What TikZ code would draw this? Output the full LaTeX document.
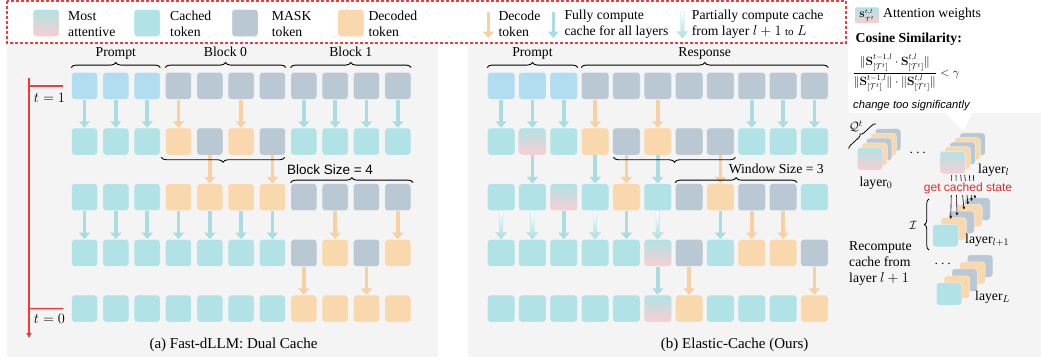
\documentclass[tikz,border=0pt]{standalone}
\usepackage{amsmath,amssymb}
\usepackage[no-math]{fontspec}
\setmainfont{Liberation Serif}
\setsansfont{Liberation Sans}
\usetikzlibrary{arrows.meta,decorations.pathreplacing,calc}
\definecolor{promptc}{HTML}{B2DCEF}
\definecolor{cachec}{HTML}{B1E2E5}
\definecolor{maskc}{HTML}{BAC8D3}
\definecolor{decc}{HTML}{F9D8AE}
\definecolor{pinkc}{HTML}{F8CED2}
\definecolor{bgc}{HTML}{F4F4F4}
\definecolor{redc}{HTML}{EE3B3B}
\definecolor{arrc}{HTML}{A9DDE2}
\definecolor{arro}{HTML}{F8D0A2}
\definecolor{gcs}{HTML}{E32B30}
\tikzset{
  txt/.style={font=\fontsize{13.7}{16}\selectfont, inner sep=0pt},
  captxt/.style={font=\fontsize{15}{18}\selectfont, inner sep=0pt},
  tok/.style={rounded corners=3pt, minimum width=26pt, minimum height=27pt, inner sep=0pt, draw=white, draw opacity=0.6, line width=0.5pt},
  tokb/.style={tok, minimum width=27.5pt},
  card/.style={rounded corners=3pt, minimum width=25.5pt, minimum height=22.5pt, inner sep=0pt, draw=white, draw opacity=0.6, line width=0.5pt},
  tokP/.style={fill=promptc},
  tokC/.style={fill=cachec},
  tokM/.style={fill=maskc},
  tokD/.style={fill=decc},
  tokA/.style={top color=cachec, bottom color=pinkc},
  carr/.style={draw=arrc, line width=3.6pt, -{Triangle[width=11pt,length=6.5pt]}},
  oarr/.style={draw=arro, line width=3.6pt, -{Triangle[width=11pt,length=6.5pt]}},
  brc/.style={decorate, decoration={brace, amplitude=5pt}, line width=0.9pt},
  gcarr/.style={line width=0.6pt, -{Stealth[length=3pt,width=2.6pt]}},
}
\newcommand\partarrow[2]{%
  \shade[top color=white, bottom color=arrc, draw=arrc!80!white, line width=0.4pt]
  ($(#1)+(-1.8,0)$) -- ($(#2)+(-1.8,-6.5)$) -- ($(#2)+(-5.5,-6.5)$) -- (#2) --
  ($(#2)+(5.5,-6.5)$) -- ($(#2)+(1.8,-6.5)$) -- ($(#1)+(1.8,0)$) -- cycle;}
\begin{document}
\begin{tikzpicture}[x=1pt,y=-1pt]
\useasboundingbox (0,0) rectangle (1041,362);
\fill[white] (0,0) rectangle (1041,362);
% panels
\fill[bgc] (7,43) rectangle (438,357);
\fill[bgc] (468,43) rectangle (1041,357);
\fill[white, rounded corners=6pt] (848,20) -- (848,113) -- (1050,113) -- (1050,20) -- cycle;
\fill[white] (944,112) -- (963,131) -- (973,112) -- cycle;
% legend box
\draw[redc, line width=1.1pt, dash pattern=on 3pt off 2pt] (7,1) rectangle (846,43);

% legend items
\node[tok, tokA] (lgA) at (46.2,23) {};
\node[txt, anchor=west, align=left] (lgAt) at (68,24) {Most\\attentive};
\node[tok, tokC] (lgC) at (147.2,23) {};
\node[txt, anchor=west, align=left] (lgCt) at (170,24) {Cached\\token};
\node[tok, tokM] (lgM) at (245,23) {};
\node[txt, anchor=west, align=left] (lgMt) at (271.7,24) {MASK\\token};
\node[tok, tokD] (lgD) at (350.8,23) {};
\node[txt, anchor=west, align=left] (lgDt) at (368.3,24) {Decoded\\token};
\coordinate (lo1) at (488.3,11.5); \coordinate (lo2) at (488.3,38);
\draw[oarr] (lo1) -- (lo2);
\node[txt, anchor=west, align=left] (lot) at (498.3,24) {Decode\\token};
\coordinate (lc1) at (553.3,11.5); \coordinate (lc2) at (553.3,38);
\draw[carr] (lc1) -- (lc2);
\node[txt, anchor=west, align=left] (lct) at (564.3,24) {Fully compute\\cache for all layers};
\coordinate (lp1) at (682.3,11.5); \coordinate (lp2) at (682.3,38);
\partarrow{lp1}{lp2}
\node[txt, anchor=west, align=left] (lpt) at (691.7,24) {Partially compute cache\\from layer $l+1$ {\fontsize{11}{13}\selectfont to} $L$};

% ---------- panel (a) ----------
\foreach \row [count=\ri from 0] in {{P,P,P,M,M,M,M,M,M,M,M},{C,C,C,D,M,D,M,C,C,C,C},{C,C,C,D,D,D,D,M,M,M,M},{C,C,C,C,C,C,C,M,D,M,D},{C,C,C,C,C,C,C,D,D,D,D}}{
  \foreach \tk [count=\ci from 0] in \row {
    \node[tok, tok\tk] (a-\ri-\ci) at ({84.5+31.33*\ci},{85.8+55.7*\ri}) {};
  }
}
\foreach \ri/\ci/\k in {0/0/carr,0/1/carr,0/2/carr,0/3/oarr,0/5/oarr,0/7/carr,0/8/carr,0/9/carr,0/10/carr,
  1/4/oarr,1/6/oarr,
  2/0/carr,2/1/carr,2/2/carr,2/3/carr,2/4/carr,2/5/carr,2/6/carr,2/8/oarr,2/10/oarr,
  3/7/oarr,3/9/oarr}{
  \pgfmathtruncatemacro\rn{\ri+1}
  \draw[\k] (a-\ri-\ci) -- (a-\rn-\ci);
}
% braces (a)
\draw[brc] ($(a-0-0.north west)+(0,-4.5)$) -- ($(a-0-2.north east)+(0,-4.5)$);
\draw[brc] ($(a-0-3.north west)+(0,-4.5)$) -- ($(a-0-6.north east)+(0,-4.5)$);
\draw[brc] ($(a-0-7.north west)+(0,-4.5)$) -- ($(a-0-10.north east)+(0,-4.5)$);
\node[txt, anchor=base] (apl) at ($(a-0-0.north west)!0.5!(a-0-2.north east)+(0,-16)$) {Prompt};
\node[txt, anchor=base] (ab0) at ($(a-0-3.north west)!0.5!(a-0-6.north east)+(0,-16)$) {Block 0};
\node[txt, anchor=base] (ab1) at ($(a-0-7.north west)!0.5!(a-0-10.north east)+(0,-16)$) {Block 1};
\draw[brc] ($(a-1-6.south east)+(-1,2)$) -- ($(a-1-3.south west)+(-4,2)$);
\draw[brc] ($(a-2-7.north west)+(0,-0.8)$) -- ($(a-2-10.north east)+(2,-0.8)$);
\node[font=\sffamily\fontsize{13.5}{16}\selectfont, inner sep=0pt] (abs) at (330,169.5) {Block Size = 4};
% timeline
\coordinate (tl0) at (29,78);
\coordinate (tl1) at (29,338);
\draw[redc, line width=1.4pt, -{Triangle[width=5pt,length=5pt]}] (tl0) -- (tl1);
\draw[redc, line width=1.4pt] (29,85.8) -- ($(a-0-0.west)+(-8,0)$);
\draw[redc, line width=1.4pt] (29,308.6) -- ($(a-4-0.west)+(-8,0)$);
\node[txt] (t1) at (49.5,97.5) {$t=1$};
\node[txt] (t0) at (49.5,319) {$t=0$};
\node[captxt] (capa) at (233.5,344.5) {(a) Fast-dLLM: Dual Cache};

% ---------- panel (b) ----------
\foreach \row [count=\ri from 0] in {{P,P,P,M,M,M,M,M,M,M,M},{C,A,C,D,M,D,M,M,C,C,C},{C,C,A,C,D,C,M,D,M,M,C},{C,C,C,C,C,A,M,C,D,D,M},{C,C,C,C,C,A,D,C,C,C,D}}{
  \foreach \tk [count=\ci from 0] in \row {
    \node[tokb, tok\tk] (b-\ri-\ci) at ({501.1+31.33*\ci},{85.8+55.7*\ri}) {};
  }
}
\foreach \ri/\ci/\k in {0/0/carr,0/1/carr,0/2/carr,0/3/oarr,0/5/oarr,0/8/carr,0/9/carr,0/10/carr,
  1/1/carr,1/3/carr,1/4/oarr,1/5/carr,1/7/oarr,
  2/2/carr,2/4/carr,2/7/carr,2/8/oarr,2/9/oarr,
  3/5/carr,3/6/oarr,3/10/oarr}{
  \pgfmathtruncatemacro\rn{\ri+1}
  \draw[\k] (b-\ri-\ci) -- (b-\rn-\ci);
}
\foreach \ci in {0,1,3,5}{
  \partarrow{b-2-\ci.south}{b-3-\ci.north}
}
\draw[brc] ($(b-0-0.north west)+(0,-4.5)$) -- ($(b-0-2.north east)+(0,-4.5)$);
\draw[brc] ($(b-0-3.north west)+(0,-4.5)$) -- ($(b-0-10.north east)+(0,-4.5)$);
\node[txt, anchor=base] (bpl) at ($(b-0-0.north west)!0.5!(b-0-2.north east)+(0,-16)$) {Prompt};
\node[txt, anchor=base] (brs) at ($(b-0-3.north west)!0.5!(b-0-10.north east)+(0,-16)$) {Response};
\draw[brc] ($(b-1-7.south east)+(1,2)$) -- ($(b-1-4.south west)+(1,2)$);
\draw[brc] ($(b-2-6.north west)+(0,-0.8)$) -- ($(b-2-9.north east)+(0,-0.8)$);
\node[txt] (bws) at (776.3,168.5) {Window Size = 3};
\node[captxt] (capb) at (734.7,345) {(b) Elastic-Cache (Ours)};

% ---------- right panel ----------
\node[rounded corners=2pt, minimum width=24pt, minimum height=16pt, inner sep=0pt, top color=cachec, bottom color=pinkc] (sw) at (867,15.3) {};
\node[font=\fontsize{8.5}{10}\selectfont, inner sep=0pt] (swl) at (sw.center) {$\mathbf{S}^{t,l}_{\mathcal{T}^t}$};
\node[txt, anchor=west] (swt) at (883,14.5) {Attention weights};
\node[txt, anchor=west, font=\bfseries\fontsize{13.7}{16}\selectfont] (cos) at (855.5,39.5) {Cosine Similarity:};
\node[font=\fontsize{12}{14}\selectfont, inner sep=0pt] (frac) at (906,73) {$\displaystyle\frac{\|\mathbf{S}^{t-1,l}_{[\mathcal{T}^t]}\cdot\mathbf{S}^{t,l}_{[\mathcal{T}^t]}\|}{\|\mathbf{S}^{t-1,l}_{[\mathcal{T}^t]}\|\cdot\|\mathbf{S}^{t,l}_{[\mathcal{T}^t]}\|}<\gamma$};
\node[anchor=west, inner sep=0pt, font=\sffamily\itshape\fontsize{11.2}{13}\selectfont] (chg) at (853,106) {change too significantly};

% stacks
\foreach \k/\s in {4/M,3/D,2/M,1/D,0/A}
  \node[card, tok\s] (s0-\k) at ({870+4.5*\k},{159-4.8*\k}) {};
\foreach \k/\s in {4/M,3/D,2/M,1/D,0/A}
  \node[card, tok\s] (sl-\k) at ({952.5+5*\k},{162.5-4.6*\k}) {};
\foreach \k/\s in {4/M,3/D,2/M,1/D,0/C}
  \node[card, tok\s] (sm-\k) at ({945.5+8*\k},{235.5-6.6*\k}) {};
\foreach \k/\s in {4/M,3/D,2/M,1/D,0/C}
  \node[card, tok\s] (sL-\k) at ({949+7.75*\k},{294-7*\k}) {};

\draw[decorate, decoration={brace, amplitude=3.5pt}, line width=0.8pt] (849,149) -- (876,124);
\node[font=\fontsize{13}{15}\selectfont, inner sep=0pt] (qt) at (856,126) {$\mathcal{Q}^t$};
\node[txt] (dots1) at (919,153) {$\cdots$};
\node[txt] (dots2) at (944,264) {$\cdots$};
\node[txt] (ly0) at (876,183) {layer$_0$};
\node[txt, anchor=west] (lyl) at (978,170) {layer$_l$};
\node[txt, anchor=west] (lyl1) at (965,240) {layer$_{l+1}$};
\node[txt, anchor=west] (lyL) at (975,297) {layer$_L$};

% get cached state arrows
\foreach \i/\xa/\xb/\yb in {1/951.7/950.7/219,2/956/957/215.5,3/960.7/964/209.5,4/964.7/968/204.5,5/969.3/971.7/201,6/973.3/975/198.5}{
  \coordinate (gs\i) at (\xa,175);
  \coordinate (ge\i) at (\xb,\yb);
  \draw[gcarr] (gs\i) -- (ge\i);
}
\node[fill=bgc, inner sep=1pt, text=gcs, font=\sffamily\fontsize{12}{14}\selectfont] (gcs) at (968,188) {get cached state};

\draw[decorate, decoration={brace, amplitude=4.5pt}, line width=0.8pt] (929,250) -- (929,199);
\node[font=\fontsize{13}{15}\selectfont, inner sep=0pt] (icl) at (913,225) {$\mathcal{I}$};
\node[txt, anchor=west, align=left] (rec) at (849,263) {Recompute\\cache from\\layer $l+1$};
\end{tikzpicture}
\end{document}
